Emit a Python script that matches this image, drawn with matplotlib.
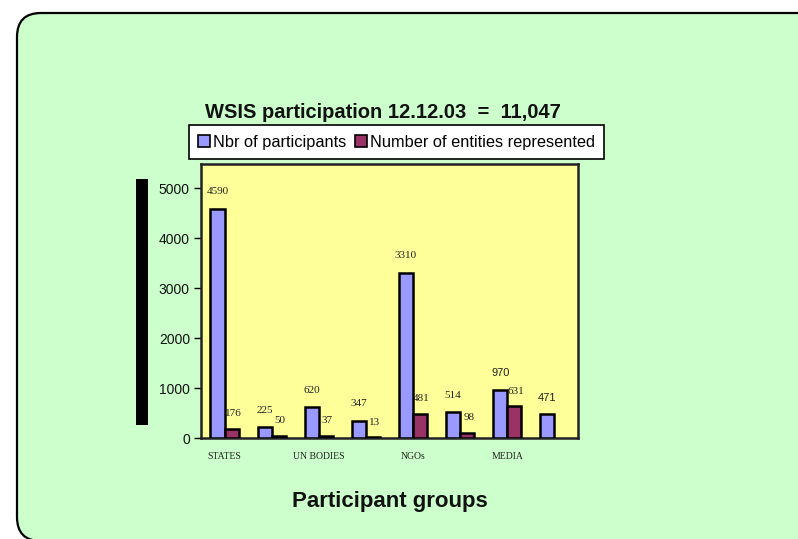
import matplotlib
matplotlib.use("Agg")
import matplotlib.pyplot as plt
from matplotlib.patches import FancyBboxPatch, Rectangle, Patch
from matplotlib.transforms import IdentityTransform
import numpy as np

# ---- data ----
groups = ["STATES", "", "UN BODIES", "", "NGOs", "", "MEDIA", ""]
participants = [4590, 225, 620, 347, 3310, 514, 970, 471]
entities = [176, 50, 37, 13, 481, 98, 631, None]
series_names = ["Nbr of participants", "Number of entities represented"]
title = "WSIS participation 12.12.03  =  11,047"
xlabel = "Participant groups"
yticks = [0, 1000, 2000, 3000, 4000, 5000]
sans_labels = {6, 7}  # groups whose participant label is drawn in sans font

W, H = 798, 539
fig = plt.figure(figsize=(W / 100, H / 100), dpi=100)
fig.patch.set_facecolor("white")

# outer rounded panel
panel = FancyBboxPatch((17, -2), 830, H - 13 + 2, boxstyle="round,pad=0,rounding_size=24",
                       transform=IdentityTransform(), facecolor="#CCFFCC",
                       edgecolor="black", linewidth=1.6, zorder=-5)
fig.patches.append(panel)

# black bar (y axis label block)
fig.patches.append(Rectangle((136, H - 425), 12, 246, transform=IdentityTransform(),
                             facecolor="black", edgecolor="none", zorder=-4))

ax = fig.add_axes([201 / W, (H - 438) / H, 377 / W, 274 / H])
ax.set_zorder(2)
ax.set_facecolor("#FFFF99")
x = np.arange(len(groups))
bw = 0.3
b1 = ax.bar(x - bw / 2, participants, bw, color="#9999FF", edgecolor="black",
            linewidth=1.8, zorder=3)
ent_x = [xi + bw / 2 for xi, v in zip(x, entities) if v is not None]
ent_h = [v for v in entities if v is not None]
b2 = ax.bar(ent_x, ent_h, bw, color="#993366", edgecolor="black",
            linewidth=1.8, zorder=3)

ax.set_xlim(-0.5, len(groups) - 0.5)
ax.set_ylim(0, 5480)
ax.set_yticks(yticks)
ax.set_yticklabels([str(t) for t in yticks], fontfamily="Liberation Sans",
                   fontsize=10, color="#111111")
ax.set_xticks(x)
ax.set_xticklabels(groups, fontfamily="Liberation Serif", fontsize=7, color="#222222")
ax.tick_params(axis="x", length=0, pad=10)
ax.tick_params(axis="y", length=5, width=1, direction="out", pad=3)
for s in ax.spines.values():
    s.set_linewidth(1.8)
    s.set_color("#222222")

# data labels
for i, v in enumerate(participants):
    fam = "Liberation Sans" if i in sans_labels else "Liberation Serif"
    fs = 8 if i in sans_labels else 8
    ax.annotate(str(v), (x[i] - bw / 2, v), xytext=(0, 12), textcoords="offset points",
                ha="center", va="center", fontfamily=fam, fontsize=fs,
                color="#222222", zorder=1)
for xi, v in zip(ent_x, ent_h):
    ax.annotate(str(v), (xi + 0.03, v), xytext=(0, 11), textcoords="offset points",
                ha="center", va="center", fontfamily="Liberation Serif", fontsize=8,
                color="#222222", zorder=1)

# title
fig.text(383 / W, (H - 113) / H, title, ha="center", va="center",
         fontfamily="Liberation Sans", fontweight="bold", fontsize=14.5, color="#111111")

# legend
handles = [Patch(facecolor="#9999FF", edgecolor="black", linewidth=1.2),
           Patch(facecolor="#993366", edgecolor="black", linewidth=1.2)]
leg = fig.legend(handles, series_names, loc="center",
                 bbox_to_anchor=(396.5 / W, (H - 142) / H), ncol=2,
                 prop={"family": "Liberation Sans", "size": 11.8},
                 frameon=True, fancybox=False, edgecolor="black", framealpha=1,
                 handlelength=0.75, handleheight=0.75, handletextpad=0.2,
                 columnspacing=0.5, borderpad=0.55, borderaxespad=0)
leg.get_frame().set_linewidth(1.2)
leg.set_zorder(3)

# x axis title
fig.text(390 / W, (H - 501) / H, xlabel, ha="center", va="center",
         fontfamily="Liberation Sans", fontweight="bold", fontsize=16, color="#111111")

fig.savefig("out.png", dpi=100, facecolor=fig.get_facecolor())
